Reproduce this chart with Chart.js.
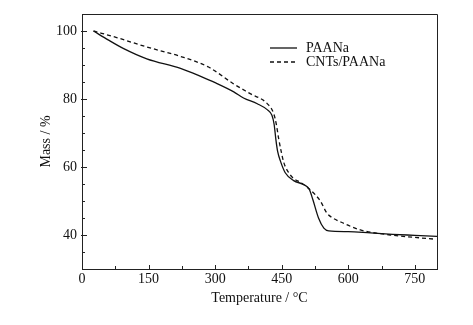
<!DOCTYPE html>
<html lang="en">
<head>
  <meta charset="UTF-8">
  <title>TGA curves</title>
  <script src="https://cdn.jsdelivr.net/npm/chart.js@4"></script>
  <style>
    html, body { margin: 0; padding: 0; background: #fff; }
    canvas { display: block; }
  </style>
</head>
<body>
  <canvas id="grafico" width="473" height="325"></canvas>

  <script>
    // Series labels
    const seriesNames = ["PAANa", "CNTs/PAANa"];

    // PAANa (solid line)
    const tempPAANa = [26, 60, 94, 146, 222, 270, 300, 342, 364, 395, 418, 428, 433, 437, 441, 447, 458, 477, 500, 512, 520, 533, 545, 556, 600, 650, 700, 750, 800];
    const massPAANa = [100, 97.3, 94.8, 91.8, 89.0, 86.5, 84.8, 82.1, 80.3, 78.6, 76.8, 75.2, 72.5, 68, 64.5, 61.8, 58.3, 56.0, 54.8, 53.5, 50.5, 45.0, 42.0, 41.2, 41.0, 40.6, 40.2, 39.9, 39.6];

    // CNTs/PAANa (dashed line)
    const tempCNT = [26, 80, 146, 220, 285, 341, 380, 417, 432, 438, 443, 449, 455, 465, 477, 492, 515, 537, 552, 565, 582, 627, 695, 750, 793];
    const massCNT = [100, 98.0, 95.3, 92.6, 89.4, 84.5, 81.5, 78.7, 75.7, 72.5, 68.5, 64.5, 61.2, 58.5, 56.6, 55.5, 53.2, 50.0, 46.4, 45.0, 43.9, 41.5, 40.0, 39.3, 38.8];

    // Axis ticks
    const xTicks = [0, 150, 300, 450, 600, 750];
    const xMinorTicks = [75, 225, 375, 525, 675];
    const yTicks = [40, 60, 80, 100];
    const yMinorTicks = [35, 45, 50, 55, 65, 70, 75, 85, 90, 95];

    const fonte = "'Liberation Serif', 'Times New Roman', serif";

    function pontos(xs, ys) {
      return xs.map((x, i) => ({ x: x, y: ys[i] }));
    }

    // Ticks pointing into the plot, plus the top/right frame and the legend
    const molduraPlugin = {
      id: "moldura",
      afterDraw(chart) {
        const ctx = chart.ctx;
        const area = chart.chartArea;
        const sx = chart.scales.x;
        const sy = chart.scales.y;
        ctx.save();
        ctx.strokeStyle = "#222";
        ctx.lineWidth = 1;
        ctx.beginPath();
        ctx.moveTo(area.left, area.top + 0.5);
        ctx.lineTo(area.right + 0.5, area.top + 0.5);
        ctx.lineTo(area.right + 0.5, area.bottom);
        ctx.stroke();

        ctx.beginPath();
        xTicks.forEach(v => {
          const px = Math.round(sx.getPixelForValue(v)) + 0.5;
          ctx.moveTo(px, area.bottom + 1);
          ctx.lineTo(px, area.bottom - 4);
        });
        xMinorTicks.forEach(v => {
          const px = Math.round(sx.getPixelForValue(v)) + 0.5;
          ctx.moveTo(px, area.bottom);
          ctx.lineTo(px, area.bottom - 3);
        });
        yTicks.forEach(v => {
          const py = Math.round(sy.getPixelForValue(v)) + 0.5;
          ctx.moveTo(area.left - 1, py);
          ctx.lineTo(area.left + 5, py);
        });
        yMinorTicks.forEach(v => {
          const py = Math.round(sy.getPixelForValue(v)) + 0.5;
          ctx.moveTo(area.left, py);
          ctx.lineTo(area.left + 3, py);
        });
        ctx.stroke();

        // legenda
        ctx.font = "14px " + fonte;
        ctx.fillStyle = "#111";
        ctx.textBaseline = "middle";
        chart.data.datasets.forEach((ds, i) => {
          const y = 48 + i * 14;
          ctx.beginPath();
          ctx.lineWidth = 1.3;
          ctx.strokeStyle = ds.borderColor;
          ctx.setLineDash(ds.borderDash || []);
          ctx.moveTo(270, y);
          ctx.lineTo(297, y);
          ctx.stroke();
          ctx.setLineDash([]);
          ctx.fillText(ds.label, 306, y);
        });
        ctx.restore();
      }
    };

    new Chart(document.getElementById("grafico"), {
      type: "line",
      data: {
        datasets: [
          {
            label: seriesNames[0],
            data: pontos(tempPAANa, massPAANa),
            borderColor: "#111",
            borderWidth: 1.3,
            pointRadius: 0,
            cubicInterpolationMode: "monotone",
            fill: false
          },
          {
            label: seriesNames[1],
            data: pontos(tempCNT, massCNT),
            borderColor: "#111",
            borderWidth: 1.3,
            borderDash: [4, 3],
            pointRadius: 0,
            cubicInterpolationMode: "monotone",
            fill: false
          }
        ]
      },
      options: {
        responsive: false,
        animation: false,
        layout: { padding: { top: 14, right: 36, left: 0, bottom: 0 } },
        plugins: {
          legend: { display: false },
          tooltip: { enabled: false }
        },
        scales: {
          x: {
            type: "linear",
            min: 0,
            max: 800,
            afterFit: s => { s.height = 56; },
            afterBuildTicks: s => { s.ticks = xTicks.map(v => ({ value: v })); },
            grid: { display: false, drawTicks: false },
            border: { display: true, color: "#222", width: 1 },
            ticks: { color: "#111", padding: 2, font: { family: fonte, size: 14 } },
            title: {
              display: true,
              text: "Temperature / °C",
              color: "#111",
              font: { family: fonte, size: 14 },
              padding: { top: 0, bottom: 18 }
            }
          },
          y: {
            min: 30,
            max: 105,
            afterFit: s => { s.width = 82; },
            afterBuildTicks: s => { s.ticks = yTicks.map(v => ({ value: v })); },
            grid: { display: false, drawTicks: false },
            border: { display: true, color: "#222", width: 1 },
            ticks: { color: "#111", padding: 5, font: { family: fonte, size: 14 } },
            title: {
              display: true,
              text: "Mass / %",
              color: "#111",
              font: { family: fonte, size: 14 },
              padding: { top: 38, bottom: 0 }
            }
          }
        }
      },
      plugins: [molduraPlugin]
    });
  </script>
</body>
</html>
